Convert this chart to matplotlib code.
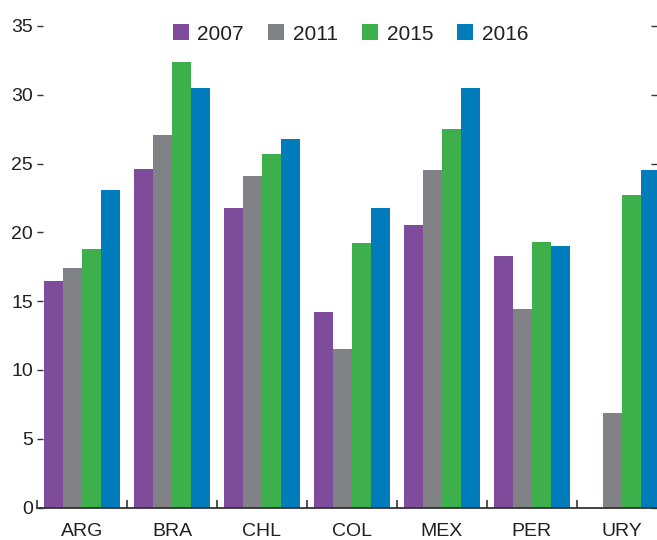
import numpy as np
import matplotlib
matplotlib.use("Agg")
import matplotlib.pyplot as plt
from matplotlib import font_manager

names = {f.name for f in font_manager.fontManager.ttflist}
fam = [n for n in ['Liberation Sans Narrow', 'Liberation Sans', 'DejaVu Sans'] if n in names]
plt.rcParams['font.family'] = fam

categories = ["ARG", "BRA", "CHL", "COL", "MEX", "PER", "URY"]
years = ["2007", "2011", "2015", "2016"]
v2007 = [16.5, 24.6, 21.8, 14.2, 20.5, 18.3, np.nan]
v2011 = [17.4, 27.1, 24.1, 11.5, 24.5, 14.4, 6.9]
v2015 = [18.8, 32.4, 25.7, 19.2, 27.5, 19.3, 22.7]
v2016 = [23.1, 30.5, 26.8, 21.8, 30.5, 19.0, 24.5]
series = [v2007, v2011, v2015, v2016]
colors = ["#7F4C9C", "#808285", "#3DB04B", "#007BBB"]
yticks = [0, 5, 10, 15, 20, 25, 30, 35]

W, H = 657, 540
fig = plt.figure(figsize=(W / 100, H / 100), dpi=100)
ax = fig.add_axes([37 / W, 1 - 507.5 / H, 1 - 37 / W, (507.5 - 26) / H])

x = np.arange(len(categories))
bw = 0.211
for i, (vals, c, lab) in enumerate(zip(series, colors, years)):
    ax.bar(x + (i - 1.5) * bw, vals, width=bw, color=c, label=lab, linewidth=0, zorder=2)

ax.set_xlim(-0.5, 6.392)
ax.set_ylim(0, 35)
ax.set_yticks(yticks)
ax.set_yticklabels([str(t) for t in yticks])
ax.set_xticks(x)
ax.set_xticklabels(categories)
ax.set_xticks(np.arange(-0.5, 6.0, 1.0), minor=True)

textc = "#231F20"
ax.tick_params(axis='x', which='major', length=0, pad=11, labelsize=14, labelcolor=textc)
ax.tick_params(axis='x', which='minor', direction='in', length=5.5, width=1.2, color="#333333")
ax.tick_params(axis='y', which='major', direction='in', length=4.5, width=1.0, color="#333333",
               pad=3, labelsize=14, labelcolor=textc, right=True, labelright=False)

for s in ["top", "left", "right"]:
    ax.spines[s].set_visible(False)
ax.spines["bottom"].set_color("#333333")
ax.spines["bottom"].set_linewidth(1.3)
ax.spines["bottom"].set_zorder(3)
for t in ax.yaxis.get_major_ticks():
    t.tick2line.set_zorder(4)

leg = fig.legend(loc='center', bbox_to_anchor=(350.5 / W, 1 - 34 / H), ncol=4, frameon=False,
                 fontsize=15, handlelength=0.77, handleheight=0.77, handletextpad=0.42,
                 columnspacing=1.15, borderpad=0)
for t in leg.get_texts():
    t.set_color(textc)

fig.savefig("out.png", dpi=100)
